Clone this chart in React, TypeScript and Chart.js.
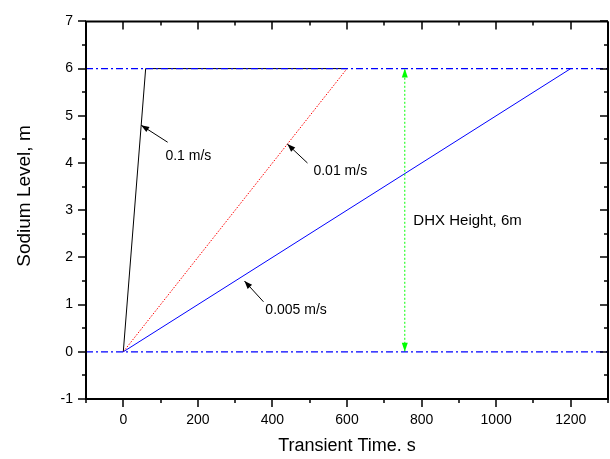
import React, { useEffect, useRef } from "react";
import { Chart, registerables } from "chart.js";

Chart.register(...registerables);

// ---- axis ticks ----
const xTickValues = [0, 200, 400, 600, 800, 1000, 1200];
const xMinorValues = [-100, 100, 300, 500, 700, 900, 1100, 1300];
const yTickValues = [-1, 0, 1, 2, 3, 4, 5, 6, 7];
const yMinorValues = [-0.5, 0.5, 1.5, 2.5, 3.5, 4.5, 5.5, 6.5];

// ---- series ----
const refX = [-100, 1300];
const refTopY = [6, 6];
const refBottomY = [0, 0];

const fastX = [0, 60, 600]; // 0.1 m/s
const fastY = [0, 6, 6];
const midX = [0, 600]; // 0.01 m/s
const midY = [0, 6];
const slowX = [0, 1200]; // 0.005 m/s
const slowY = [0, 6];

const heightX = [755, 755]; // DHX height arrow
const heightY = [0, 6];

// ---- annotations (data units) ----
const annLabels = ["0.1 m/s", "0.01 m/s", "0.005 m/s"];
const annTipX = [48, 440, 325];
const annTipY = [4.8, 4.4, 1.5];
const annTailX = [119, 494, 376];
const annTailY = [4.44, 4.0, 1.06];
const annTextX = [113, 510, 381];
const annTextY = [4.15, 3.83, 0.875];
const dhxLabel = "DHX Height, 6m";
const dhxLabelX = 778;
const dhxLabelY = 2.77;

const xTitle = "Transient Time. s";
const yTitle = "Sodium Level, m";
const yTitleCenterValue = 3.3;

const FONT = "'Liberation Sans', Arial, Helvetica, sans-serif";

function pts(xs: number[], ys: number[]) {
  return xs.map((x, i) => ({ x, y: ys[i] }));
}

function arrowHead(ctx: CanvasRenderingContext2D, tx: number, ty: number, fx: number, fy: number, len: number, half: number, color: string) {
  const ang = Math.atan2(ty - fy, tx - fx);
  ctx.save();
  ctx.fillStyle = color;
  ctx.beginPath();
  ctx.moveTo(tx, ty);
  ctx.lineTo(tx - len * Math.cos(ang) + half * Math.sin(ang), ty - len * Math.sin(ang) - half * Math.cos(ang));
  ctx.lineTo(tx - len * Math.cos(ang) - half * Math.sin(ang), ty - len * Math.sin(ang) + half * Math.cos(ang));
  ctx.closePath();
  ctx.fill();
  ctx.restore();
}

export default function App() {
  const ref = useRef<HTMLCanvasElement>(null);
  useEffect(() => {
    const canvas = ref.current!;
    const framePlugin = {
      id: "framePlugin",
      afterDatasetsDraw(chart: any) {
        const ctx: CanvasRenderingContext2D = chart.ctx;
        const { left, right, top, bottom } = chart.chartArea;
        const xs = chart.scales.x;
        const ys = chart.scales.y;
        ctx.save();
        // green arrow heads
        const gx = xs.getPixelForValue(heightX[0]);
        const gTop = ys.getPixelForValue(heightY[1]);
        const gBot = ys.getPixelForValue(heightY[0]);
        arrowHead(ctx, gx, gTop, gx, gTop + 20, 9, 3, "#00ff00");
        arrowHead(ctx, gx, gBot, gx, gBot - 20, 9, 3, "#00ff00");
        // annotation arrows
        ctx.strokeStyle = "#000";
        ctx.lineWidth = 1;
        for (let i = 0; i < annLabels.length; i++) {
          const tx = xs.getPixelForValue(annTipX[i]);
          const ty = ys.getPixelForValue(annTipY[i]);
          const fx = xs.getPixelForValue(annTailX[i]);
          const fy = ys.getPixelForValue(annTailY[i]);
          ctx.beginPath();
          ctx.moveTo(fx, fy);
          ctx.lineTo(tx, ty);
          ctx.stroke();
          arrowHead(ctx, tx, ty, fx, fy, 8, 3, "#000");
          ctx.fillStyle = "#000";
          ctx.font = `14px ${FONT}`;
          ctx.textBaseline = "middle";
          ctx.textAlign = "left";
          ctx.fillText(annLabels[i], xs.getPixelForValue(annTextX[i]), ys.getPixelForValue(annTextY[i]));
        }
        ctx.font = `15px ${FONT}`;
        ctx.fillText(dhxLabel, xs.getPixelForValue(dhxLabelX), ys.getPixelForValue(dhxLabelY));

        // y title
        ctx.save();
        ctx.translate(25, ys.getPixelForValue(yTitleCenterValue));
        ctx.rotate(-Math.PI / 2);
        ctx.font = `19px ${FONT}`;
        ctx.textAlign = "center";
        ctx.textBaseline = "middle";
        ctx.fillStyle = "#000";
        ctx.fillText(yTitle, 0, 0);
        ctx.restore();

        // frame
        ctx.strokeStyle = "#000";
        ctx.lineWidth = 2;
        ctx.beginPath();
        ctx.moveTo(left, top);
        ctx.lineTo(right, top);
        ctx.moveTo(right, top);
        ctx.lineTo(right, bottom);
        ctx.moveTo(left - 1, bottom);
        ctx.lineTo(right + 1, bottom);
        ctx.moveTo(left, top - 1);
        ctx.lineTo(left, bottom + 1);
        ctx.stroke();
        // ticks
        ctx.lineWidth = 1.5;
        ctx.beginPath();
        const major = 8;
        const minor = 4;
        for (const v of xTickValues) {
          const p = Math.round(xs.getPixelForValue(v));
          ctx.moveTo(p, bottom); ctx.lineTo(p, bottom + major);
          ctx.moveTo(p, top); ctx.lineTo(p, top + major);
        }
        for (const v of xMinorValues) {
          const p = Math.round(xs.getPixelForValue(v));
          ctx.moveTo(p, bottom); ctx.lineTo(p, bottom + minor);
          ctx.moveTo(p, top); ctx.lineTo(p, top + minor);
        }
        for (const v of yTickValues) {
          const p = Math.round(ys.getPixelForValue(v));
          ctx.moveTo(left, p); ctx.lineTo(left - major, p);
          ctx.moveTo(right, p); ctx.lineTo(right - major, p);
        }
        for (const v of yMinorValues) {
          const p = Math.round(ys.getPixelForValue(v));
          ctx.moveTo(left, p); ctx.lineTo(left - minor, p);
          ctx.moveTo(right, p); ctx.lineTo(right - minor, p);
        }
        ctx.stroke();
        ctx.restore();
      },
    };

    const base = { pointRadius: 0, borderWidth: 1, tension: 0, fill: false };
    const chart = new Chart(canvas, {
      type: "line",
      data: {
        datasets: [
          { ...base, data: pts(refX, refTopY), borderColor: "#0000ff", borderWidth: 1.3, borderDash: [7, 3, 2, 3] },
          { ...base, data: pts(refX, refBottomY), borderColor: "#0000ff", borderWidth: 1.3, borderDash: [7, 3, 2, 3] },
          { ...base, data: pts(heightX, heightY), borderColor: "#00ff00", borderDash: [2, 2] },
          { ...base, data: pts(slowX, slowY), borderColor: "#0000ff" },
          { ...base, data: pts(midX, midY), borderColor: "#ff0000", borderDash: [1.5, 1.5] },
          { ...base, data: pts(fastX, fastY), borderColor: "#000000" },
        ] as any,
      },
      options: {
        animation: false,
        responsive: false,
        devicePixelRatio: 1,
        layout: { padding: { top: 15, right: 2, left: 0, bottom: 0 } },
        plugins: { legend: { display: false }, tooltip: { enabled: false } },
        scales: {
          x: {
            type: "linear",
            min: -100,
            max: 1300,
            grid: { display: false, drawTicks: false },
            border: { display: false },
            afterFit(scale: any) { scale.height = 60; },
            afterBuildTicks(scale: any) { scale.ticks = xTickValues.map((v) => ({ value: v })); },
            ticks: { padding: 13, color: "#000", font: { family: FONT, size: 14 }, maxRotation: 0, autoSkip: false, callback: (v: any) => String(v) },
            title: { display: true, text: xTitle, color: "#000", font: { family: FONT, size: 18 }, padding: { top: 0, bottom: 2 } },
          },
          y: {
            type: "linear",
            min: -1,
            max: 7,
            grid: { display: false, drawTicks: false },
            border: { display: false },
            afterFit(scale: any) { scale.width = 86; },
            afterBuildTicks(scale: any) { scale.ticks = yTickValues.map((v) => ({ value: v })); },
            ticks: { padding: 13, color: "#000", font: { family: FONT, size: 14 }, autoSkip: false, callback: (v: any) => String(v) },
            title: { display: false },
          },
        },
      } as any,
      plugins: [framePlugin],
    });
    return () => chart.destroy();
  }, []);
  return (
    <div style={{ position: "fixed", left: 0, top: 0, width: 610, height: 459, background: "#fff" }}>
      <canvas ref={ref} width={610} height={459} style={{ display: "block" }} />
    </div>
  );
}
